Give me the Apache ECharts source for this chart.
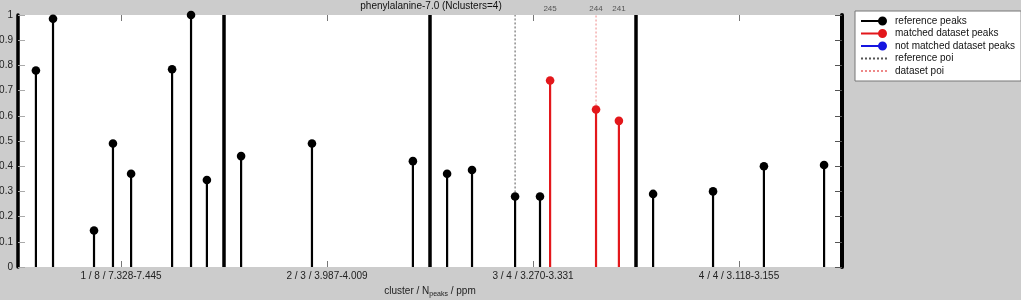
<!DOCTYPE html>
<html><head><meta charset="utf-8">
<script src="https://cdn.jsdelivr.net/npm/echarts@6/dist/echarts.min.js"></script>
<style>html,body{margin:0;padding:0;background:#cccccc;}#c{width:1021px;height:300px;}</style>
</head><body><div id="c"></div>
<script>
const titleText = 'phenylalanine-7.0 (Nclusters=4)';
const clusterLabels = ['1 / 8 / 7.328-7.445', '2 / 3 / 3.987-4.009', '3 / 4 / 3.270-3.331', '4 / 4 / 3.118-3.155'];
const clusterCenters = [0.5, 1.5, 2.5, 3.5];
const clusterBounds = [1, 2, 3];
const refX = [0.087, 0.170, 0.369, 0.461, 0.549, 0.748, 0.840, 0.917, 1.083, 1.427, 1.917, 2.083, 2.204, 2.413, 2.534, 3.083, 3.374, 3.621, 3.913];
const refY = [0.78, 0.985, 0.145, 0.49, 0.37, 0.785, 1.0, 0.345, 0.44, 0.49, 0.42, 0.37, 0.385, 0.28, 0.28, 0.29, 0.30, 0.40, 0.405];
const matchedX = [2.583, 2.806, 2.917];
const matchedY = [0.74, 0.625, 0.58];
const matchedLabels = ['245', '244', '241'];
const refPoiX = 2.413, refPoiY = 0.28;
const dataPoiX = 2.806, dataPoiY = 0.625;

const FONT = '"Liberation Sans", Arial, sans-serif';
const BLACK = '#000000', RED = '#e3171b', BLUE = '#1515e0';

function stemRender(color, labels) {
  return function (params, api) {
    const x = api.value(0), y = api.value(1);
    const p0 = api.coord([x, 0]), p1 = api.coord([x, y]);
    const children = [
      {type: 'line', shape: {x1: p0[0], y1: p0[1], x2: p1[0], y2: p1[1]}, style: {stroke: color, lineWidth: 2.2}},
      {type: 'circle', shape: {cx: p1[0], cy: p1[1], r: 4.3}, style: {fill: color}}
    ];
    if (labels) {
      const pt = api.coord([x, 1]);
      children.push({type: 'text', x: pt[0], y: pt[1] - 2, style: {text: labels[params.dataIndex], fill: '#555', font: '8px ' + FONT, align: 'center', verticalAlign: 'bottom'}});
    }
    return {type: 'group', children: children};
  };
}

const stemIcon = 'path://M0,4.1h20v1.8H0z M26,5a4.5,4.5 0 1,1 -9,0a4.5,4.5 0 1,1 9,0z';
const hideSym = {opacity: 0};

const option = {
  backgroundColor: '#cccccc',
  animation: false,
  textStyle: {fontFamily: FONT},
  title: {text: titleText, left: 430, top: 0, padding: 1, textAlign: 'center', textStyle: {fontSize: 10, fontWeight: 'normal', color: '#111', fontFamily: FONT}},
  grid: {left: 18, right: 179, top: 15, bottom: 33, show: true, backgroundColor: '#ffffff', borderWidth: 0, outerBoundsMode: 'none', containLabel: false},
  legend: {
    orient: 'vertical', left: 855, top: 11,
    padding: [4, 6, 4, 5], itemGap: 0.5, itemWidth: 26, itemHeight: 9,
    backgroundColor: '#ffffff', borderColor: '#777', borderWidth: 1,
    textStyle: {fontSize: 10, color: '#111', fontFamily: FONT, padding: [0, 0, 0, 3], lineHeight: 12},
    data: [
      {name: 'reference peaks', icon: stemIcon},
      {name: 'matched dataset peaks', icon: stemIcon},
      {name: 'not matched dataset peaks', icon: stemIcon},
      {name: 'reference poi', itemStyle: hideSym},
      {name: 'dataset poi', itemStyle: hideSym}
    ]
  },
  xAxis: [
    {type: 'value', min: 0, max: 4, position: 'bottom',
     axisLine: {show: false, onZero: false}, splitLine: {show: false},
     axisTick: {show: true, inside: true, length: 6, customValues: clusterCenters, lineStyle: {color: '#777'}},
     axisLabel: {customValues: clusterCenters, fontSize: 10, color: '#222', margin: 4,
       formatter: function (v) { return clusterLabels[Math.round(v - 0.5)]; }},
     name: '{m|cluster / N}{s|peaks}{m| / ppm}', nameLocation: 'middle', nameGap: 15,
     nameTextStyle: {rich: {m: {fontSize: 10, color: '#222', fontFamily: FONT}, s: {fontSize: 7, color: '#222', fontFamily: FONT, padding: [7, 0, 0, 0]}}}
    },
    {type: 'value', min: 0, max: 4, position: 'top',
     axisLine: {show: false, onZero: false}, splitLine: {show: false},
     axisTick: {show: true, inside: true, length: 6, customValues: clusterCenters, lineStyle: {color: '#777'}},
     axisLabel: {show: false}
    }
  ],
  yAxis: [
    {type: 'value', min: 0, max: 1, interval: 0.1, position: 'left',
     axisLine: {show: true, onZero: false, lineStyle: {color: BLACK, width: 3.5}}, splitLine: {show: false},
     axisTick: {show: true, inside: true, length: 7, lineStyle: {color: '#aaa'}},
     axisLabel: {fontSize: 10, color: '#222', margin: 5, formatter: function (v) { return v === 0 ? '0' : (v === 1 ? '1' : v.toFixed(1)); }}
    },
    {type: 'value', min: 0, max: 1, interval: 0.1, position: 'right',
     axisLine: {show: true, onZero: false, lineStyle: {color: BLACK, width: 4}}, splitLine: {show: false},
     axisTick: {show: true, inside: true, length: 7, lineStyle: {color: '#555'}},
     axisLabel: {show: false}
    }
  ],
  series: [
    {name: 'reference poi', type: 'line', symbol: 'none', z: 1,
     lineStyle: {color: '#555', width: 1, type: [2, 2]}, itemStyle: {color: '#555'},
     data: [[refPoiX, refPoiY], [refPoiX, 1]],
     markLine: {silent: true, symbol: ['none', 'none'], label: {show: false},
       lineStyle: {color: BLACK, width: 3.5, type: 'solid'},
       data: clusterBounds.map(function (b) { return {xAxis: b}; })}
    },
    {name: 'dataset poi', type: 'line', symbol: 'none', z: 1,
     lineStyle: {color: '#e88', width: 1, type: [2, 2]}, itemStyle: {color: '#e88'},
     data: [[dataPoiX, dataPoiY], [dataPoiX, 1]]
    },
    {name: 'reference peaks', type: 'custom', z: 3, itemStyle: {color: BLACK},
     renderItem: stemRender(BLACK, null),
     data: refX.map(function (x, i) { return [x, refY[i]]; })
    },
    {name: 'matched dataset peaks', type: 'custom', z: 3, itemStyle: {color: RED},
     renderItem: stemRender(RED, matchedLabels),
     data: matchedX.map(function (x, i) { return [x, matchedY[i]]; })
    },
    {name: 'not matched dataset peaks', type: 'custom', z: 3, itemStyle: {color: BLUE},
     renderItem: stemRender(BLUE, null),
     data: []
    }
  ]
};
const chart = echarts.init(document.getElementById('c'), null, {renderer: 'canvas'});
chart.setOption(option);
</script>
</body></html>
